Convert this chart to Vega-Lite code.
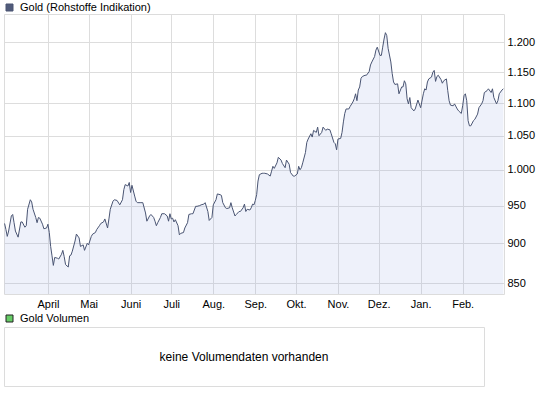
{
"$schema": "https://vega.github.io/schema/vega-lite/v6.json",
"padding": {"left": 3, "top": 1, "right": 0, "bottom": 0},
"background": "white",
"bounds": "flush",
"spacing": 33,
"config": {
  "view": {"stroke": "#dcdcdc", "strokeWidth": 1},
  "font": "Liberation Sans",
  "axis": {"labelFont": "Liberation Sans", "labelFontSize": 11, "labelColor": "#000", "domain": false, "ticks": false, "gridColor": "#dddddd", "gridWidth": 1, "title": null, "labelOverlap": false, "labelFlush": false},
  "legend": {"orient": "none", "legendX": 0, "title": null, "symbolType": "square", "symbolSize": 49, "labelFont": "Liberation Sans", "labelFontSize": 11, "labelColor": "#000", "labelOffset": 5, "padding": 0}
},
"resolve": {"scale": {"color": "independent"}, "legend": {"color": "independent"}},
"vconcat": [
  {
    "width": 500, "height": 280,
    "data": {"values": [
{"d":"2009-02-28","v":926},{"d":"2009-03-01","v":918},{"d":"2009-03-02","v":909},{"d":"2009-03-03","v":916},{"d":"2009-03-05","v":936},{"d":"2009-03-06","v":938},{"d":"2009-03-07","v":927},{"d":"2009-03-08","v":916},{"d":"2009-03-10","v":908},{"d":"2009-03-12","v":928},{"d":"2009-03-13","v":928},{"d":"2009-03-15","v":921},{"d":"2009-03-16","v":923},{"d":"2009-03-17","v":945},{"d":"2009-03-19","v":958},{"d":"2009-03-20","v":955},{"d":"2009-03-21","v":945},{"d":"2009-03-23","v":934},{"d":"2009-03-24","v":927},{"d":"2009-03-25","v":934},{"d":"2009-03-26","v":933},{"d":"2009-03-28","v":925},{"d":"2009-03-29","v":919},{"d":"2009-03-31","v":920},
{"d":"2009-04-01","v":925},{"d":"2009-04-02","v":914},{"d":"2009-04-03","v":896},{"d":"2009-04-04","v":884},{"d":"2009-04-05","v":872},{"d":"2009-04-06","v":882},{"d":"2009-04-08","v":881},{"d":"2009-04-09","v":880},{"d":"2009-04-11","v":886},{"d":"2009-04-12","v":891},{"d":"2009-04-13","v":883},{"d":"2009-04-14","v":873},{"d":"2009-04-16","v":870},{"d":"2009-04-17","v":884},{"d":"2009-04-18","v":885},{"d":"2009-04-19","v":890},{"d":"2009-04-21","v":903},{"d":"2009-04-22","v":912},{"d":"2009-04-24","v":907},{"d":"2009-04-25","v":896},{"d":"2009-04-27","v":898},{"d":"2009-04-28","v":891},{"d":"2009-04-30","v":900},
{"d":"2009-05-01","v":898},{"d":"2009-05-03","v":909},{"d":"2009-05-04","v":912},{"d":"2009-05-06","v":914},{"d":"2009-05-07","v":918},{"d":"2009-05-09","v":923},{"d":"2009-05-10","v":926},{"d":"2009-05-12","v":928},{"d":"2009-05-13","v":932},{"d":"2009-05-15","v":920},{"d":"2009-05-16","v":932},{"d":"2009-05-17","v":945},{"d":"2009-05-19","v":956},{"d":"2009-05-20","v":958},{"d":"2009-05-22","v":957},{"d":"2009-05-24","v":951},{"d":"2009-05-26","v":958},{"d":"2009-05-27","v":972},{"d":"2009-05-28","v":979},{"d":"2009-05-30","v":977},{"d":"2009-05-31","v":982},
{"d":"2009-06-01","v":968},{"d":"2009-06-02","v":978},{"d":"2009-06-04","v":963},{"d":"2009-06-05","v":956},{"d":"2009-06-06","v":954},{"d":"2009-06-08","v":954},{"d":"2009-06-10","v":954},{"d":"2009-06-12","v":940},{"d":"2009-06-13","v":929},{"d":"2009-06-15","v":936},{"d":"2009-06-16","v":938},{"d":"2009-06-18","v":934},{"d":"2009-06-19","v":929},{"d":"2009-06-20","v":923},{"d":"2009-06-21","v":927},{"d":"2009-06-23","v":934},{"d":"2009-06-24","v":939},{"d":"2009-06-26","v":939},{"d":"2009-06-28","v":936},{"d":"2009-06-29","v":929},{"d":"2009-06-30","v":939},
{"d":"2009-07-01","v":932},{"d":"2009-07-02","v":933},{"d":"2009-07-03","v":928},{"d":"2009-07-04","v":931},{"d":"2009-07-06","v":923},{"d":"2009-07-07","v":911},{"d":"2009-07-08","v":913},{"d":"2009-07-10","v":914},{"d":"2009-07-11","v":920},{"d":"2009-07-13","v":927},{"d":"2009-07-14","v":938},{"d":"2009-07-16","v":939},{"d":"2009-07-17","v":939},{"d":"2009-07-19","v":949},{"d":"2009-07-20","v":949},{"d":"2009-07-22","v":950},{"d":"2009-07-23","v":951},{"d":"2009-07-25","v":952},{"d":"2009-07-26","v":954},{"d":"2009-07-28","v":942},{"d":"2009-07-29","v":930},{"d":"2009-07-31","v":934},
{"d":"2009-08-01","v":951},{"d":"2009-08-03","v":958},{"d":"2009-08-04","v":966},{"d":"2009-08-06","v":965},{"d":"2009-08-07","v":964},{"d":"2009-08-08","v":954},{"d":"2009-08-10","v":947},{"d":"2009-08-11","v":946},{"d":"2009-08-13","v":947},{"d":"2009-08-14","v":954},{"d":"2009-08-15","v":947},{"d":"2009-08-17","v":936},{"d":"2009-08-18","v":938},{"d":"2009-08-20","v":942},{"d":"2009-08-21","v":942},{"d":"2009-08-23","v":947},{"d":"2009-08-24","v":952},{"d":"2009-08-25","v":942},{"d":"2009-08-26","v":945},{"d":"2009-08-28","v":944},{"d":"2009-08-29","v":947},{"d":"2009-08-30","v":952},{"d":"2009-08-31","v":951},
{"d":"2009-09-01","v":957},{"d":"2009-09-02","v":965},{"d":"2009-09-03","v":984},{"d":"2009-09-04","v":993},{"d":"2009-09-06","v":995},{"d":"2009-09-07","v":995},{"d":"2009-09-08","v":995},{"d":"2009-09-10","v":994},{"d":"2009-09-12","v":991},{"d":"2009-09-13","v":998},{"d":"2009-09-14","v":1005},{"d":"2009-09-15","v":1002},{"d":"2009-09-17","v":1010},{"d":"2009-09-18","v":1018},{"d":"2009-09-20","v":1014},{"d":"2009-09-21","v":1009},{"d":"2009-09-23","v":1003},{"d":"2009-09-24","v":1014},{"d":"2009-09-26","v":1008},{"d":"2009-09-27","v":996},{"d":"2009-09-29","v":991},{"d":"2009-09-30","v":991},
{"d":"2009-10-02","v":994},{"d":"2009-10-03","v":1005},{"d":"2009-10-04","v":1000},{"d":"2009-10-05","v":1003},{"d":"2009-10-06","v":1010},{"d":"2009-10-08","v":1025},{"d":"2009-10-09","v":1040},{"d":"2009-10-10","v":1045},{"d":"2009-10-12","v":1053},{"d":"2009-10-13","v":1048},{"d":"2009-10-14","v":1058},{"d":"2009-10-16","v":1055},{"d":"2009-10-17","v":1063},{"d":"2009-10-18","v":1050},{"d":"2009-10-20","v":1055},{"d":"2009-10-21","v":1063},{"d":"2009-10-23","v":1058},{"d":"2009-10-24","v":1060},{"d":"2009-10-26","v":1059},{"d":"2009-10-27","v":1053},{"d":"2009-10-29","v":1040},{"d":"2009-10-30","v":1038},{"d":"2009-10-31","v":1029},
{"d":"2009-11-01","v":1045},{"d":"2009-11-03","v":1046},{"d":"2009-11-04","v":1055},{"d":"2009-11-05","v":1071},{"d":"2009-11-06","v":1084},{"d":"2009-11-07","v":1091},{"d":"2009-11-09","v":1091},{"d":"2009-11-10","v":1095},{"d":"2009-11-12","v":1102},{"d":"2009-11-13","v":1107},{"d":"2009-11-14","v":1115},{"d":"2009-11-15","v":1104},{"d":"2009-11-16","v":1121},{"d":"2009-11-17","v":1126},{"d":"2009-11-18","v":1140},{"d":"2009-11-19","v":1143},{"d":"2009-11-21","v":1145},{"d":"2009-11-22","v":1145},{"d":"2009-11-24","v":1151},{"d":"2009-11-25","v":1162},{"d":"2009-11-26","v":1167},{"d":"2009-11-28","v":1176},{"d":"2009-11-29","v":1187},{"d":"2009-11-30","v":1192},
{"d":"2009-12-02","v":1178},{"d":"2009-12-03","v":1178},{"d":"2009-12-04","v":1192},{"d":"2009-12-05","v":1206},{"d":"2009-12-06","v":1217},{"d":"2009-12-07","v":1212},{"d":"2009-12-08","v":1190},{"d":"2009-12-10","v":1167},{"d":"2009-12-11","v":1148},{"d":"2009-12-12","v":1134},{"d":"2009-12-13","v":1130},{"d":"2009-12-15","v":1131},{"d":"2009-12-16","v":1115},{"d":"2009-12-18","v":1126},{"d":"2009-12-19","v":1126},{"d":"2009-12-20","v":1136},{"d":"2009-12-21","v":1131},{"d":"2009-12-22","v":1107},{"d":"2009-12-23","v":1099},{"d":"2009-12-24","v":1109},{"d":"2009-12-25","v":1093},{"d":"2009-12-27","v":1088},{"d":"2009-12-28","v":1091},{"d":"2009-12-30","v":1105},{"d":"2009-12-31","v":1099},
{"d":"2010-01-01","v":1093},{"d":"2010-01-03","v":1115},{"d":"2010-01-04","v":1123},{"d":"2010-01-05","v":1121},{"d":"2010-01-06","v":1134},{"d":"2010-01-07","v":1139},{"d":"2010-01-09","v":1142},{"d":"2010-01-10","v":1150},{"d":"2010-01-11","v":1153},{"d":"2010-01-12","v":1135},{"d":"2010-01-13","v":1143},{"d":"2010-01-14","v":1145},{"d":"2010-01-16","v":1138},{"d":"2010-01-17","v":1132},{"d":"2010-01-18","v":1136},{"d":"2010-01-20","v":1139},{"d":"2010-01-21","v":1120},{"d":"2010-01-22","v":1104},{"d":"2010-01-23","v":1097},{"d":"2010-01-25","v":1096},{"d":"2010-01-26","v":1099},{"d":"2010-01-28","v":1091},{"d":"2010-01-29","v":1088},{"d":"2010-01-31","v":1084},
{"d":"2010-02-01","v":1096},{"d":"2010-02-02","v":1112},{"d":"2010-02-03","v":1115},{"d":"2010-02-04","v":1104},{"d":"2010-02-05","v":1073},{"d":"2010-02-06","v":1065},{"d":"2010-02-07","v":1065},{"d":"2010-02-09","v":1073},{"d":"2010-02-10","v":1075},{"d":"2010-02-12","v":1083},{"d":"2010-02-13","v":1093},{"d":"2010-02-15","v":1099},{"d":"2010-02-16","v":1104},{"d":"2010-02-17","v":1117},{"d":"2010-02-19","v":1120},{"d":"2010-02-20","v":1123},{"d":"2010-02-22","v":1117},{"d":"2010-02-23","v":1123},{"d":"2010-02-24","v":1109},{"d":"2010-02-26","v":1099},{"d":"2010-02-27","v":1104},{"d":"2010-02-28","v":1115},
{"d":"2010-03-02","v":1121},{"d":"2010-03-03","v":1123}
    ]},
    "encoding": {
      "x": {"field": "d", "type": "temporal",
        "scale": {"type": "utc", "domain": [{"year": 2009, "month": 2, "date": 27, "hours": 14, "utc": true}, {"year": 2010, "month": 3, "date": 3, "hours": 12, "utc": true}]},
        "axis": {"grid": true, "labelPadding": 4, "labelAlign": "center",
          "values": [{"year":2009,"month":4,"date":1,"utc":true},{"year":2009,"month":5,"date":1,"utc":true},{"year":2009,"month":6,"date":1,"utc":true},{"year":2009,"month":7,"date":1,"utc":true},{"year":2009,"month":8,"date":1,"utc":true},{"year":2009,"month":9,"date":1,"utc":true},{"year":2009,"month":10,"date":1,"utc":true},{"year":2009,"month":11,"date":1,"utc":true},{"year":2009,"month":12,"date":1,"utc":true},{"year":2010,"month":1,"date":1,"utc":true},{"year":2010,"month":2,"date":1,"utc":true}],
          "labelExpr": "['Jan.','Feb.','März','April','Mai','Juni','Juli','Aug.','Sep.','Okt.','Nov.','Dez.'][utcmonth(datum.value)]"}},
      "y": {"field": "v", "type": "quantitative",
        "scale": {"type": "log", "domain": [837, 1250], "nice": false},
        "axis": {"orient": "right", "grid": true, "labelPadding": 3, "labelAlign": "left", "labelBaseline": "middle",
          "values": [850, 900, 950, 1000, 1050, 1100, 1150, 1200],
          "labelExpr": "replace(format(datum.value, ','), ',', '.')"}}
    },
    "layer": [
      {"mark": {"type": "area", "color": "#8ea2de", "opacity": 0.15, "clip": true},
       "encoding": {"y2": {"datum": 837}}},
      {"mark": {"type": "line", "strokeWidth": 1, "clip": true},
       "encoding": {"color": {"datum": "Gold (Rohstoffe Indikation)", "scale": {"range": ["#4a5573"]},
         "legend": {"legendY": -12, "encode": {"symbols": {"update": {"fill": {"value": "#505b7a"}, "stroke": {"value": "#222222"}, "strokeWidth": {"value": 1}, "opacity": {"value": 1}}}}}}}}
    ]
  },
  {
    "width": 480, "height": 59,
    "view": {"stroke": "#dcdcdc", "strokeWidth": 1},
    "data": {"values": [{"msg": "keine Volumendaten vorhanden", "px": 0.5, "py": 0.5}]},
    "encoding": {
      "x": {"field": "px", "type": "quantitative", "scale": {"domain": [0, 1]}, "axis": null},
      "y": {"field": "py", "type": "quantitative", "scale": {"domain": [0, 1]}, "axis": null}
    },
    "layer": [
      {"mark": {"type": "text", "fontSize": 12, "font": "Liberation Sans", "color": "#000000"},
       "encoding": {"text": {"field": "msg"}}},
      {"mark": {"type": "square", "size": 0, "opacity": 0},
       "encoding": {"color": {"datum": "Gold Volumen", "scale": {"range": ["#66cc66"]},
         "legend": {"legendY": -14, "encode": {"symbols": {"update": {"fill": {"value": "#66cc66"}, "stroke": {"value": "#222222"}, "strokeWidth": {"value": 1}, "opacity": {"value": 1}}}}}}}}
    ]
  }
]
}
